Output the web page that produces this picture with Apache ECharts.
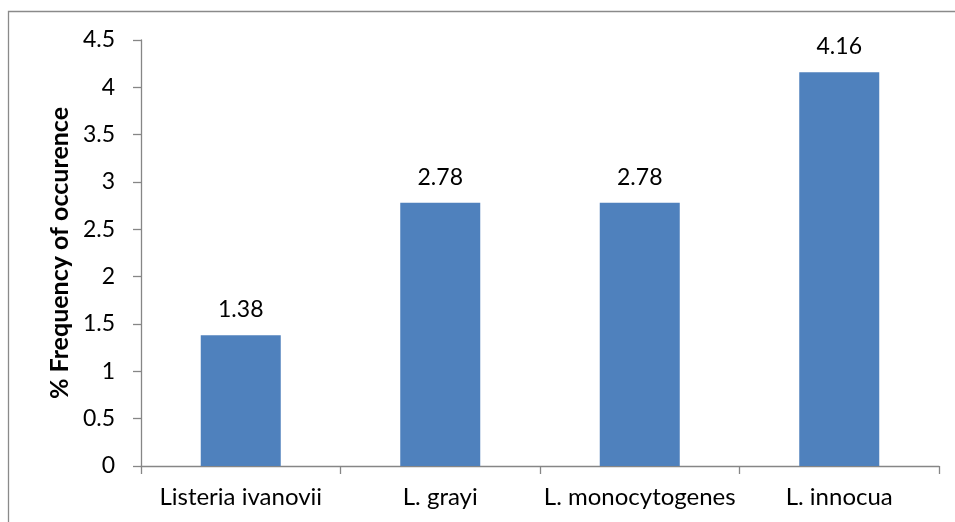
<!DOCTYPE html>
<html>
<head>
<meta charset="utf-8">
<script src="https://cdn.jsdelivr.net/npm/echarts@6/dist/echarts.min.js"></script>
<style>
  html, body { margin: 0; padding: 0; background: #fff; }
  #chart { width: 955px; height: 522px; }
</style>
</head>
<body>
<div id="chart"></div>
<script>
// Listeria species and their frequency of occurrence (%)
const categories = ['Listeria ivanovii', 'L. grayi', 'L. monocytogenes', 'L. innocua'];
const frequency = [1.38, 2.78, 2.78, 4.16];
const yTicks = [0, 0.5, 1, 1.5, 2, 2.5, 3, 3.5, 4, 4.5];

const font = 'Lato, "Open Sans", sans-serif';
const axisGray = '#868686';

const chart = echarts.init(document.getElementById('chart'), null, { renderer: 'canvas' });
chart.setOption({
  animation: false,
  backgroundColor: '#fff',
  graphic: [{
    type: 'rect',
    shape: { x: 8.5, y: 11.5, width: 1000, height: 600 },
    style: { fill: 'none', stroke: '#8a8a8a', lineWidth: 1.3 },
    silent: true
  }],
  grid: { left: 141, top: 40, right: 16, bottom: 56, containLabel: false },
  xAxis: {
    type: 'category',
    data: categories,
    axisLine: { lineStyle: { color: axisGray, width: 1.3 } },
    axisTick: { show: true, length: 8, alignWithLabel: false, lineStyle: { color: axisGray, width: 1.3 } },
    axisLabel: { color: '#000', fontFamily: font, fontSize: 24, margin: 19, interval: 0 }
  },
  yAxis: {
    type: 'value',
    min: yTicks[0],
    max: yTicks[yTicks.length - 1],
    interval: yTicks[1] - yTicks[0],
    name: '% Frequency of occurence',
    nameLocation: 'middle',
    nameRotate: 90,
    nameGap: 68,
    nameTextStyle: { color: '#000', fontFamily: font, fontSize: 25, fontWeight: 'bold' },
    axisLine: { show: true, lineStyle: { color: axisGray, width: 1.3 } },
    axisTick: { show: true, length: 8, lineStyle: { color: axisGray, width: 1.3 } },
    axisLabel: { color: '#000', fontFamily: font, fontSize: 23, margin: 26,
                 formatter: v => String(v) },
    splitLine: { show: false }
  },
  series: [{
    type: 'bar',
    data: frequency,
    barWidth: 80,
    itemStyle: { color: '#4F81BD' },
    label: {
      show: true,
      position: 'top',
      distance: 14,
      color: '#000',
      fontFamily: font,
      fontSize: 23,
      formatter: p => p.value.toFixed(2)
    }
  }]
});
</script>
</body>
</html>
